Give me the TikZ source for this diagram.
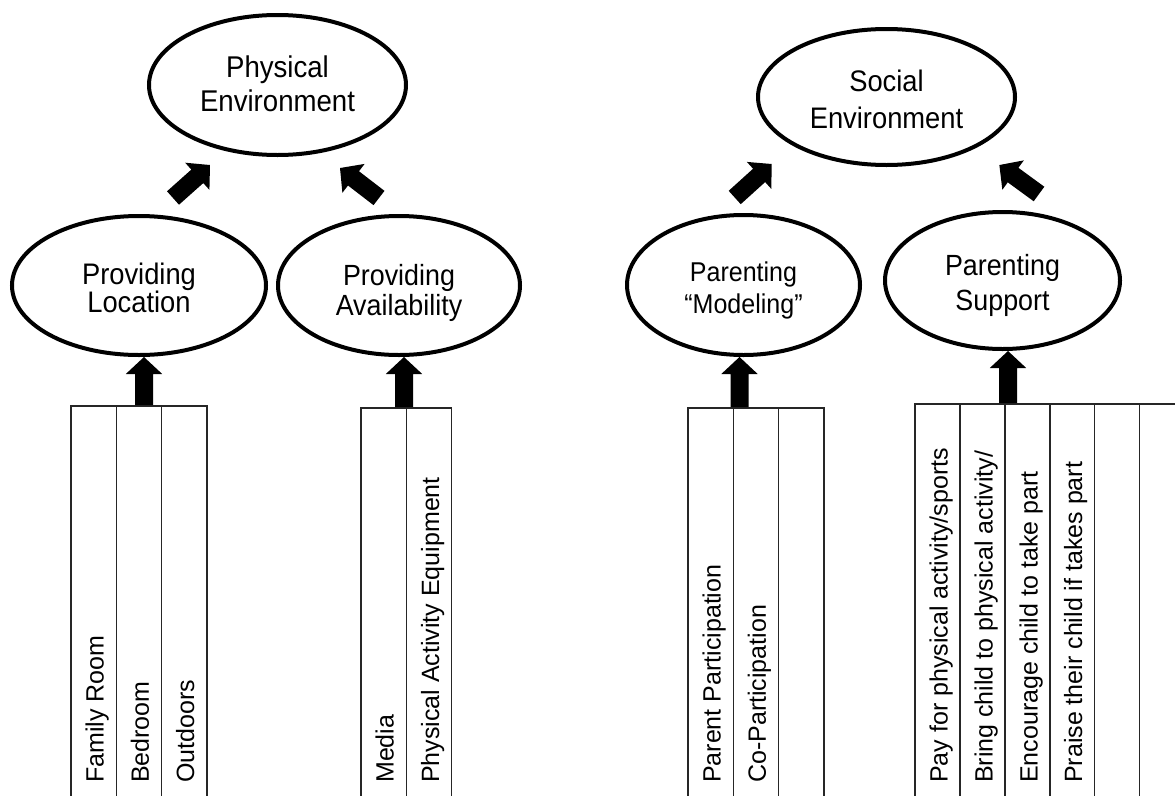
\documentclass[tikz,border=0pt]{standalone}
\usepackage{fontspec}
\usetikzlibrary{shapes.geometric,calc}
\newfontfamily\ellfont[FakeStretch=0.92]{Liberation Sans}
\newfontfamily\colfont{Liberation Sans}

% filled block arrow from tail coordinate #1 to tip coordinate #2
\newcommand\blockarrow[2]{%
  \fill let \p1=(#1), \p2=(#2),
    \n1={atan2(\y2-\y1,\x2-\x1)},
    \n2={veclen(\x2-\x1,\y2-\y1)} in
    [shift={(\p1)}, rotate=\n1]
    (0,9) -- ({\n2-17},9) -- ({\n2-17},18.2) -- (\n2,0)
    -- ({\n2-17},-18.2) -- ({\n2-17},-9) -- (0,-9) -- cycle;}

\tikzset{
  ell/.style={ellipse, draw, line width=4pt, inner sep=0pt},
  elltext/.style={inner sep=0pt, align=center},
  colbox/.style={draw=black!85, line width=1.2pt, minimum width=45.3pt,
    minimum height=440pt, anchor=north west, inner sep=0pt, outer sep=0pt},
  coltext/.style={rotate=90, anchor=base west, inner sep=0pt,
    font=\colfont\fontsize{25}{30}\selectfont},
}

\begin{document}
\begin{tikzpicture}[x=1pt,y=-1pt]
\useasboundingbox (0,0) rectangle (1175,795);
\clip (0,0) rectangle (1175,795);

% ---- ellipses ----
\node[ell, minimum width=257pt, minimum height=140pt] (phys) at (277.5,85) {};
\node[ell, minimum width=257pt, minimum height=136pt] (soc) at (886.5,97) {};
\node[ell, minimum width=254pt, minimum height=139pt] (loc) at (139,285.5) {};
\node[ell, minimum width=242pt, minimum height=139pt] (avail) at (399,285.5) {};
\node[ell, minimum width=233pt, minimum height=140pt] (model) at (743.5,285) {};
\node[ell, minimum width=235pt, minimum height=137pt] (supp) at (1002.5,280.5) {};

\node[elltext, font=\ellfont\fontsize{30}{34}\selectfont] (physt)
  at ($(phys.center)+(0,-1)$) {Physical\\Environment};
\node[elltext, font=\ellfont\fontsize{29.7}{36.6}\selectfont] (soct)
  at ($(soc.center)+(0,2.5)$) {Social\\Environment};
\node[elltext, font=\ellfont\fontsize{29.7}{28.5}\selectfont] (loct)
  at ($(loc.center)+(0,2.5)$) {Providing\\Location};
\node[elltext, font=\ellfont\fontsize{29.2}{30}\selectfont] (availt)
  at ($(avail.center)+(0,7)$) {Providing\\Availability};
\node[elltext, font=\ellfont\fontsize{27.2}{31.6}\selectfont] (modelt)
  at ($(model.center)+(0,5.5)$) {Parenting\\“Modeling”};
\node[elltext, font=\ellfont\fontsize{29.2}{35}\selectfont] (suppt)
  at ($(supp.center)+(0,4.5)$) {Parenting\\Support};

% ---- item columns ----
\node[colbox] (fam) at (71,406) {};
\node[colbox] (bed) at (116.3,406) {};
\node[colbox] (out) at (161.6,406) {};
\node[coltext] (famt) at (103.5,783) {Family Room};
\node[coltext] (bedt) at (148.8,783) {Bedroom};
\node[coltext] (outt) at (194.1,783) {Outdoors};

\node[colbox] (med) at (361,408) {};
\node[colbox] (equ) at (406.5,408) {};
\node[coltext] (medt) at (393.5,783) {Media};
\node[coltext] (equt) at (439,783) {Physical Activity Equipment};

\node[colbox] (par) at (688,408) {};
\node[colbox] (cop) at (733.3,408) {};
\node[colbox] (mx) at (778.6,408) {};
\node[coltext] (part) at (720.5,783) {Parent Participation};
\node[coltext] (copt) at (765.8,783) {Co-Participation};

\node[colbox] (pay) at (915,404) {};
\node[colbox] (bri) at (960,404) {};
\node[colbox] (enc) at (1005,404) {};
\node[colbox] (pra) at (1049.5,404) {};
\node[colbox] (sx1) at (1094.5,404) {};
\node[colbox] (sx2) at (1139.5,404) {};
\node[coltext] (payt) at (947.5,783) {Pay for physical activity/sports};
\node[coltext] (brit) at (992.5,783) {Bring child to physical activity/};
\node[coltext] (enct) at (1037.5,783) {Encourage child to take part};
\node[coltext] (prat) at (1082,783) {Praise their child if takes part};

% ---- arrows ----
\coordinate (locA) at (144,405);
\coordinate (avaA) at (404,407);
\coordinate (modA) at (739.5,407);
\coordinate (supA) at (1008,403);
\blockarrow{locA}{locA |- loc.south}
\blockarrow{avaA}{avaA |- avail.south}
\blockarrow{modA}{modA |- model.south}
\blockarrow{supA}{supA |- supp.south}

\coordinate (pl1) at (173,198);   \coordinate (pl2) at (210,165);
\coordinate (pr1) at (379,198);   \coordinate (pr2) at (340,168);
\coordinate (sl1) at (734.7,197.5); \coordinate (sl2) at (771.7,164);
\coordinate (sr1) at (1039,194);  \coordinate (sr2) at (999.3,165);
\blockarrow{pl1}{pl2}
\blockarrow{pr1}{pr2}
\blockarrow{sl1}{sl2}
\blockarrow{sr1}{sr2}
\end{tikzpicture}
\end{document}
